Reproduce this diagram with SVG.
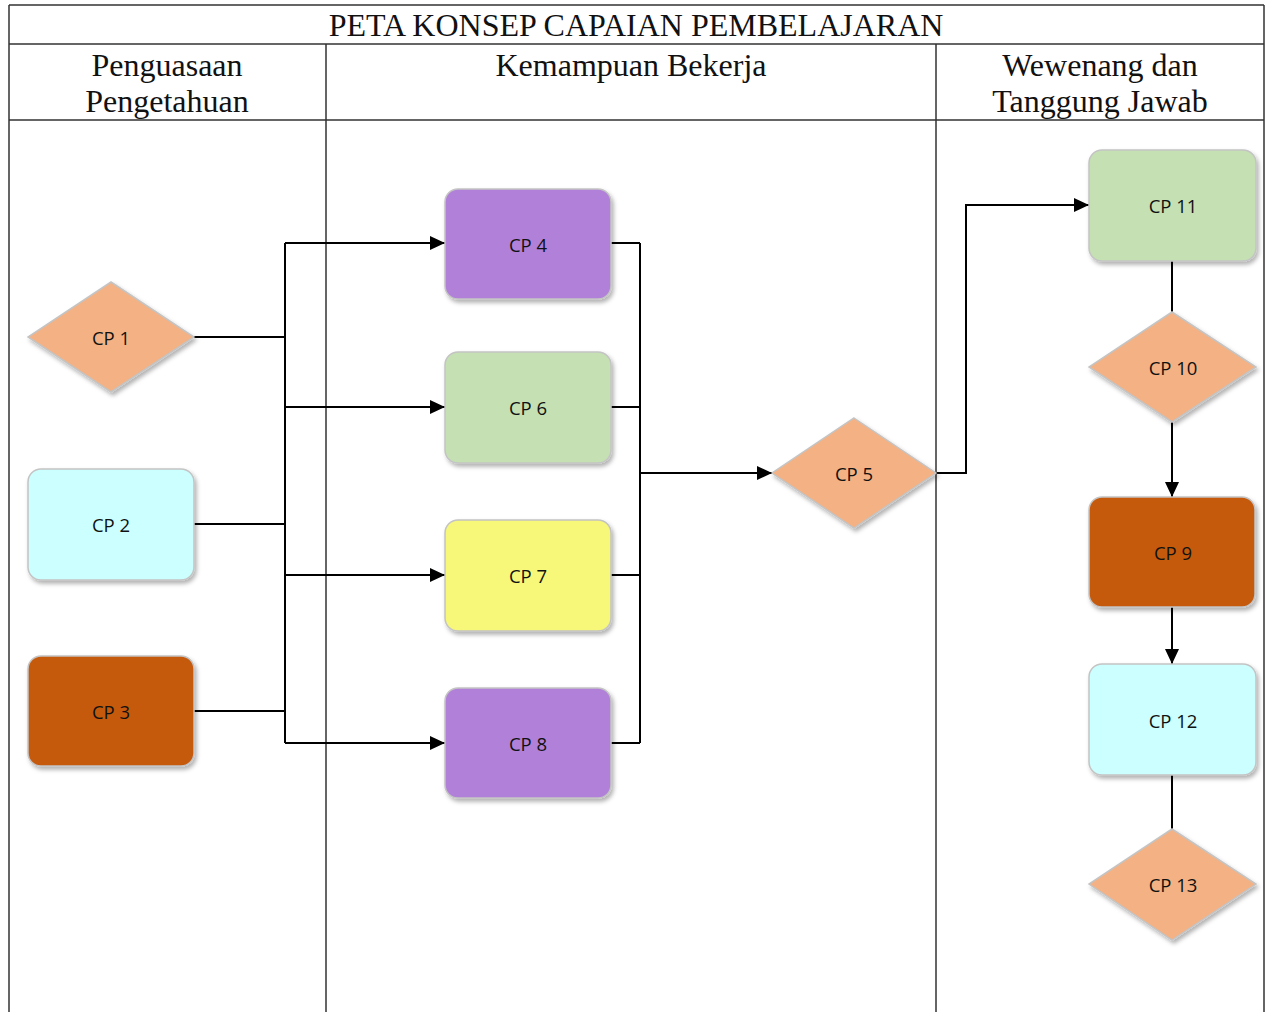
<svg xmlns="http://www.w3.org/2000/svg" width="1266" height="1012" viewBox="0 0 1266 1012">
<style>
.grid{stroke:#333;stroke-width:1.5;fill:none}
.hdr{font-family:"Liberation Serif","Times New Roman",serif;font-size:32px;fill:#111;text-anchor:middle}
.node{stroke:#c4c4c4;stroke-width:1.5;filter:url(#sh)}
.lbl{font-family:"Open Sans","Liberation Sans",sans-serif;font-size:18.5px;fill:#111;text-anchor:middle;dominant-baseline:central}
.conn{stroke:#000;stroke-width:2;fill:none}
.arr{marker-end:url(#ah)}
</style>
<defs>
<filter id="sh" x="-20%" y="-20%" width="150%" height="150%">
<feDropShadow dx="2" dy="3" stdDeviation="2.2" flood-color="#000" flood-opacity="0.3"/>
</filter>
<marker id="ah" markerUnits="userSpaceOnUse" markerWidth="16" markerHeight="14" refX="15" refY="7" orient="auto">
<path d="M0,0 L15,7 L0,14 z" fill="#000"/>
</marker>
</defs>
<rect width="1266" height="1012" fill="#fff"/>
<g id="table">
<path class="grid" d="M9,5 H1264 M9,44 H1264 M9,120 H1264 M9,5 V1012 M1264,5 V1012 M326,44 V1012 M936,44 V1012"/>
<text class="hdr" x="636" y="36">PETA KONSEP CAPAIAN PEMBELAJARAN</text>
<text class="hdr" x="167" y="76">Penguasaan</text>
<text class="hdr" x="167" y="112">Pengetahuan</text>
<text class="hdr" x="631" y="76">Kemampuan Bekerja</text>
<text class="hdr" x="1100" y="76">Wewenang dan</text>
<text class="hdr" x="1100" y="112">Tanggung Jawab</text>
</g>
<g id="connectors">
<path class="conn" d="M194,337 H285 M194,524 H285 M194,711 H285 M285,243 V743"/>
<path class="conn arr" d="M285,243 H445"/>
<path class="conn arr" d="M285,407 H445"/>
<path class="conn arr" d="M285,575 H445"/>
<path class="conn arr" d="M285,743 H445"/>
<path class="conn" d="M611,243 H640 M611,407 H640 M611,575 H640 M611,743 H640 M640,243 V743"/>
<path class="conn arr" d="M640,473 H772"/>
<path class="conn arr" d="M936,473 H966 V205 H1089"/>
<path class="conn" d="M1172,261 V312"/>
<path class="conn arr" d="M1172,422 V497"/>
<path class="conn arr" d="M1172,607 V664"/>
<path class="conn" d="M1172,775 V829"/>
</g>
<g id="cp1"><polygon class="node" points="111,282 194,337 111,392 28,337" fill="#f4b183"/><text class="lbl" x="111" y="337">CP 1</text></g>
<g id="cp2"><rect class="node" x="28" y="469" width="166" height="111" rx="13" fill="#ccffff"/><text class="lbl" x="111" y="524">CP 2</text></g>
<g id="cp3"><rect class="node" x="28" y="656" width="166" height="110" rx="13" fill="#c55a11"/><text class="lbl" x="111" y="711">CP 3</text></g>
<g id="cp4"><rect class="node" x="445" y="189" width="166" height="110" rx="13" fill="#b180d8"/><text class="lbl" x="528" y="244">CP 4</text></g>
<g id="cp6"><rect class="node" x="445" y="352" width="166" height="111" rx="13" fill="#c5e0b3"/><text class="lbl" x="528" y="407">CP 6</text></g>
<g id="cp7"><rect class="node" x="445" y="520" width="166" height="111" rx="13" fill="#f7f77a"/><text class="lbl" x="528" y="575">CP 7</text></g>
<g id="cp8"><rect class="node" x="445" y="688" width="166" height="110" rx="13" fill="#b180d8"/><text class="lbl" x="528" y="743">CP 8</text></g>
<g id="cp5"><polygon class="node" points="854,418 936,473 854,528 772,473" fill="#f4b183"/><text class="lbl" x="854" y="473">CP 5</text></g>
<g id="cp11"><rect class="node" x="1089" y="150" width="167" height="111" rx="13" fill="#c5e0b3"/><text class="lbl" x="1173" y="205">CP 11</text></g>
<g id="cp10"><polygon class="node" points="1172,312 1256,367 1172,422 1089,367" fill="#f4b183"/><text class="lbl" x="1173" y="367">CP 10</text></g>
<g id="cp9"><rect class="node" x="1089" y="497" width="166" height="110" rx="13" fill="#c55a11"/><text class="lbl" x="1173" y="552">CP 9</text></g>
<g id="cp12"><rect class="node" x="1089" y="664" width="167" height="111" rx="13" fill="#ccffff"/><text class="lbl" x="1173" y="720">CP 12</text></g>
<g id="cp13"><polygon class="node" points="1172,829 1256,884 1172,940 1089,884" fill="#f4b183"/><text class="lbl" x="1173" y="884">CP 13</text></g>
</svg>
